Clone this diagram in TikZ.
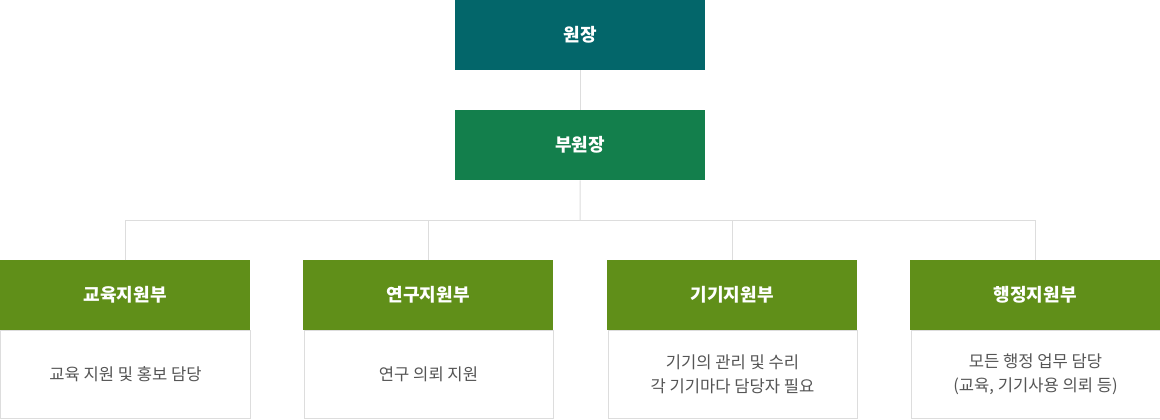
\documentclass[tikz,border=0pt]{standalone}
\usepackage{fontspec}
\setmainfont{Noto Sans CJK KR}
\definecolor{cteal}{HTML}{03666A}
\definecolor{cgreen}{HTML}{137F4C}
\definecolor{colive}{HTML}{608F19}
\definecolor{cline}{HTML}{DDDDDD}
\definecolor{ctext}{HTML}{555555}
\tikzset{
  box/.style={anchor=north west, minimum width=250bp, minimum height=70bp, inner sep=0pt, text=white, font=\fontsize{18bp}{21bp}\selectfont\bfseries},
  desc/.style={anchor=north west, minimum width=249bp, minimum height=88bp, inner sep=0pt, draw=cline, line width=1bp, fill=white, text=ctext, align=center, font=\fontsize{16.6bp}{24bp}\selectfont},
  conn/.style={draw=cline, line width=1bp}
}
\begin{document}
\begin{tikzpicture}[x=1bp, y=-1bp]
\useasboundingbox[fill=white] (0,0) rectangle (1160,419);
\node[box, fill=cteal] (top) at (455,0) {원장};
\node[box, fill=cgreen] (vice) at (455,110) {부원장};
\coordinate (bus) at (580,220);
\node[box, fill=colive] (h1) at (0,260) {교육지원부};
\node[box, fill=colive] (h2) at (303,260) {연구지원부};
\node[box, fill=colive] (h3) at (607,260) {기기지원부};
\node[box, fill=colive] (h4) at (910,260) {행정지원부};
\node[desc] (d1) at (0.5,330) {교육 지원 및 홍보 담당};
\node[desc] (d2) at (303.5,330) {연구 의뢰 지원};
\node[desc] (d3) at (607.5,330) {기기의 관리 및 수리\\각 기기마다 담당자 필요};
\node[desc] (d4) at (910.5,330) {모든 행정 업무 담당\\(교육, 기기사용 의뢰 등)};
\draw[conn] (top.south) -- (vice.north);
\draw[conn] (vice.south) -- (bus);
\draw[conn] (h1.north) |- (bus);
\draw[conn] (h2.north) |- (bus);
\draw[conn] (h3.north) |- (bus);
\draw[conn] (h4.north) |- (bus);
\end{tikzpicture}
\end{document}
